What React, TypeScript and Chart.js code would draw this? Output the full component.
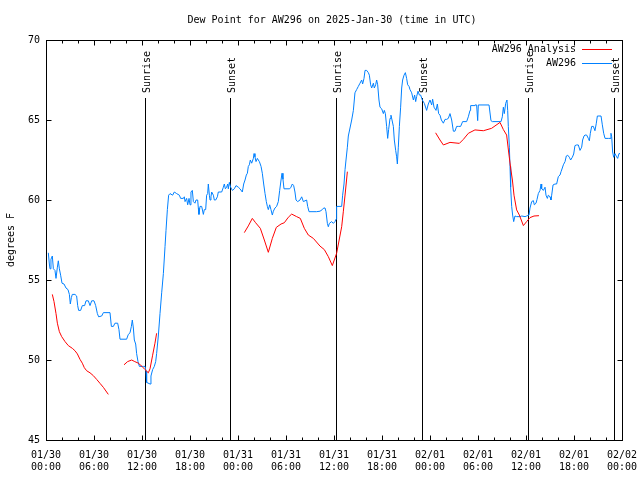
import React, { useEffect, useRef } from "react";
import { Chart, registerables } from "chart.js";

Chart.register(...registerables);

const TITLE = "Dew Point for AW296 on 2025-Jan-30 (time in UTC)";
const Y_LABEL = "degrees F";
const FAMILY = '"DejaVu Sans Mono", monospace';
const FONT = `10px ${FAMILY}`;

// hours since 2025-01-30 00:00 UTC
const obsHours = [
  0.29, 0.42, 0.5, 0.62, 0.79, 0.92, 1.12, 1.25, 1.42, 1.54, 1.67, 1.83, 2.0, 2.25, 2.5, 2.75, 2.92, 3.04, 3.17, 3.29,
  3.62, 3.83, 3.96, 4.08, 4.33, 4.54, 4.83, 5.0, 5.29, 5.5, 5.71, 6.0, 6.21, 6.42, 6.58, 6.96, 7.17, 8.0, 8.17, 8.42,
  8.62, 8.96, 9.12, 9.25, 10.08, 10.29, 10.5, 10.67, 10.79, 10.92, 11.04, 11.21, 11.33, 11.5, 11.67, 12.17, 12.38, 12.5, 12.58, 13.0,
  13.12, 13.33, 13.54, 13.71, 13.83, 14.04, 14.25, 14.46, 14.67, 14.88, 15.0, 15.17, 15.33, 15.5, 15.83, 16.04, 16.33, 16.67, 16.83, 17.17,
  17.29, 17.38, 17.58, 17.71, 17.88, 18.0, 18.12, 18.29, 18.42, 18.62, 18.75, 18.96, 19.04, 19.12, 19.25, 19.46, 19.67, 19.79, 19.96, 20.08,
  20.21, 20.29, 20.42, 20.5, 20.62, 20.71, 20.92, 21.04, 21.21, 21.42, 21.54, 21.96, 22.17, 22.29, 22.42, 22.58, 22.71, 22.79, 22.92, 23.08,
  23.29, 23.54, 23.75, 24.04, 24.25, 24.54, 24.71, 24.88, 25.04, 25.17, 25.29, 25.42, 25.54, 25.71, 25.92, 26.0, 26.12, 26.25, 26.42, 26.54,
  26.67, 26.88, 27.04, 27.21, 27.38, 27.54, 27.67, 27.79, 27.96, 28.12, 28.29, 28.42, 28.62, 28.83, 29.04, 29.21, 29.38, 29.5, 29.62, 29.75,
  30.46, 30.62, 30.79, 30.96, 31.12, 31.25, 31.46, 31.75, 31.96, 32.17, 32.58, 32.71, 32.88, 33.83, 34.25, 34.54, 34.71, 34.88, 35.0, 35.17,
  35.29, 35.42, 35.71, 35.92, 36.12, 36.25, 36.33, 36.96, 37.08, 37.25, 37.38, 37.5, 37.67, 37.79, 38.0, 38.21, 38.42, 38.62, 38.83, 39.04,
  39.25, 39.46, 39.58, 39.75, 39.88, 40.08, 40.29, 40.42, 40.58, 40.71, 40.92, 41.04, 41.21, 41.33, 41.46, 41.62, 41.75, 41.96, 42.17, 42.29,
  42.42, 42.58, 42.71, 42.83, 43.0, 43.12, 43.25, 43.42, 43.54, 43.71, 43.83, 43.92, 44.04, 44.17, 44.33, 44.46, 44.58, 44.75, 44.92, 45.08,
  45.21, 45.38, 45.5, 45.71, 45.92, 46.08, 46.21, 46.33, 46.5, 46.67, 46.83, 47.04, 47.29, 47.58, 47.79, 48.0, 48.21, 48.33, 48.5, 48.75,
  48.92, 49.08, 49.25, 49.42, 49.67, 49.88, 50.08, 50.29, 50.5, 50.71, 50.92, 51.12, 51.33, 51.54, 51.83, 52.08, 52.58, 52.79, 53.0, 53.08,
  53.5, 53.62, 53.83, 53.96, 54.04, 55.38, 55.62, 55.79, 56.88, 57.04, 57.17, 57.29, 57.46, 57.62, 57.71, 57.79, 57.92, 58.0, 58.08, 58.21,
  58.33, 58.46, 58.62, 58.83, 59.25, 59.46, 59.88, 60.08, 60.38, 60.5, 60.71, 60.92, 61.04, 61.25, 61.38, 61.54, 61.75, 61.88, 61.96, 62.17,
  62.38, 62.5, 62.67, 62.79, 63.0, 63.12, 63.21, 63.38, 63.62, 63.83, 64.04, 64.25, 64.38, 64.54, 64.67, 64.88, 65.04, 65.21, 65.42, 65.58,
  65.79, 65.96, 66.12, 66.33, 66.54, 66.75, 66.96, 67.08, 67.25, 67.38, 67.58, 67.79, 67.92, 68.04, 68.21, 68.42, 68.62, 68.79, 68.92, 69.12,
  69.38, 69.54, 69.71, 69.88, 70.29, 70.5, 70.62, 70.71, 70.83, 70.96, 71.12, 71.33, 71.46, 71.62, 71.75,
];

const obsDewPoint = [
  56.7, 56.0, 55.7, 56.3, 56.5, 55.7, 55.6, 55.1, 55.8, 56.2, 55.7, 55.3, 54.8, 54.75, 54.5, 54.4, 54.1, 53.5, 53.9, 54.1,
  54.1, 54.0, 53.4, 53.1, 53.1, 53.4, 53.4, 53.7, 53.7, 53.4, 53.7, 53.7, 53.4, 52.9, 52.7, 52.75, 52.96, 52.96, 52.1, 52.1,
  52.3, 52.3, 51.9, 51.3, 51.3, 51.6, 51.7, 52.1, 52.5, 52.0, 51.25, 51.0, 50.4, 49.9, 49.6, 49.6, 49.6, 49.3, 48.6, 48.5,
  49.0, 49.4, 49.6, 49.9, 50.4, 51.5, 52.9, 54.2, 55.4, 57.1, 58.1, 59.4, 60.3, 60.4, 60.3, 60.5, 60.4, 60.3, 60.1, 60.1,
  60.2, 59.9, 60.1, 59.7, 60.1, 59.7, 60.5, 60.6, 59.9, 59.8, 60.0, 60.0, 59.5, 59.1, 59.6, 59.6, 59.1, 59.4, 59.4, 60.3,
  60.4, 61.0, 60.3, 60.0, 60.2, 60.5, 60.3, 60.0, 60.0, 60.2, 60.5, 60.5, 60.8, 61.0, 60.7, 60.8, 61.0, 60.7, 61.1, 60.8,
  60.6, 60.7, 60.9, 60.8, 60.7, 60.5, 61.0, 61.25, 61.56, 61.67, 62.1, 62.2, 62.5, 62.3, 62.6, 62.9, 62.7, 62.4, 62.6, 62.5,
  62.4, 62.1, 61.67, 61.0, 60.4, 59.9, 59.6, 59.4, 59.7, 59.4, 59.06, 59.3, 59.5, 59.6, 59.9, 60.6, 61.25, 61.67, 61.3, 60.7,
  60.7, 60.8, 61.0, 60.9, 60.5, 60.0, 59.9, 60.0, 60.2, 59.9, 60.0, 59.6, 59.27, 59.27, 59.3, 59.4, 59.5, 59.5, 59.27, 58.54,
  58.33, 58.54, 58.65, 58.54, 58.65, 58.8, 59.6, 59.6, 60.3, 61.0, 61.9, 62.5, 63.3, 64.0, 64.5, 65.0, 65.6, 66.7, 66.9, 67.1,
  67.3, 67.5, 67.25, 67.6, 68.1, 68.1, 67.96, 67.8, 67.2, 67.0, 67.3, 67.0, 67.2, 67.5, 67.2, 66.25, 65.8, 65.7, 65.4, 65.6,
  65.4, 64.6, 63.85, 64.4, 65.1, 65.3, 65.0, 64.6, 63.75, 63.1, 62.7, 62.25, 63.3, 64.6, 65.8, 67.0, 67.5, 67.8, 67.96, 67.6,
  67.2, 67.1, 66.9, 66.7, 66.25, 66.56, 66.15, 66.46, 66.8, 66.56, 66.56, 66.25, 66.04, 65.6, 66.0, 66.25, 65.94, 66.3, 65.8, 65.6,
  66.0, 65.4, 65.3, 65.0, 64.8, 65.04, 65.04, 65.1, 65.4, 65.0, 64.3, 64.3, 64.6, 64.6, 64.6, 64.9, 64.9, 65.2, 65.6, 65.9,
  65.9, 65.94, 65.94, 64.96, 65.94, 65.94, 64.96, 64.9, 64.9, 65.2, 65.8, 65.4, 66.04, 66.25, 65.6, 64.6, 63.3, 62.1, 60.8, 59.6,
  59.06, 58.65, 59.0, 58.96, 58.96, 59.0, 58.96, 59.0, 59.06, 59.5, 59.9, 59.96, 59.7, 59.8, 60.04, 60.4, 60.6, 61.0, 60.7, 60.6,
  60.8, 60.3, 60.1, 60.3, 60.2, 60.0, 60.3, 60.94, 61.0, 61.0, 61.46, 61.56, 61.77, 62.0, 62.2, 62.4, 62.75, 62.8, 62.67, 62.5,
  62.67, 62.875, 63.4, 63.44, 63.44, 63.1, 63.3, 63.75, 64.0, 64.06, 64.06, 63.85, 63.7, 64.17, 64.6, 64.6, 64.33, 64.8, 65.25, 65.25,
  65.25, 64.7, 64.17, 63.85, 63.85, 63.85, 64.17, 63.96, 63.0, 62.67, 62.9, 62.7, 62.6, 62.9, 62.9,
];

// analysis series; null marks a gap in the record
const anaHours = [
  0.79, 1.0, 1.25, 1.42, 1.67, 1.96, 2.38, 2.79, 3.29, 3.62, 3.92, 4.25, 4.54, 4.79, 5.08, 5.5, 5.92, 6.33, 6.75, 7.17, 7.79,
  8.8,
  9.75, 10.2, 10.71, 11.1, 11.54, 12.0, 12.38, 12.79, 13.0, 13.33, 13.62, 13.83,
  19.0,
  24.79, 25.29, 25.79, 26.2, 26.79, 27.29, 27.79, 28.29, 28.79, 29.38, 29.79, 30.29, 30.71, 31.33, 31.79, 32.29, 32.79, 33.42,
  34.25, 34.79, 35.29, 35.79, 36.33, 36.96, 37.17, 37.42, 37.67,
  43.0,
  48.7, 49.25, 49.67, 50.5, 51.67, 52.17, 52.8, 53.62, 54.67, 55.7, 56.75, 57.17, 57.58, 57.83, 58.08, 58.3, 58.5, 58.83,
  59.17, 59.67, 60.08, 60.5, 61.0, 61.62,
];

const anaDewPoint = [
  54.1, 53.65, 52.9, 52.3, 51.77, 51.46, 51.15, 50.9, 50.73, 50.58, 50.38, 50.04, 49.8, 49.52, 49.33, 49.2, 49.02, 48.79, 48.54, 48.29, 47.85,
  null,
  49.7, 49.9, 50.0, 49.9, 49.8, 49.6, 49.4, 49.2, 49.45, 50.3, 51.05, 51.67,
  null,
  57.96, 58.38, 58.85, 58.58, 58.23, 57.5, 56.73, 57.6, 58.29, 58.5, 58.58, 58.92, 59.12, 58.96, 58.85, 58.23, 57.81, 57.6,
  57.12, 56.9, 56.46, 55.9, 56.67, 58.33, 59.3, 60.5, 61.77,
  null,
  64.2, 63.75, 63.44, 63.6, 63.54, 63.79, 64.17, 64.38, 64.33, 64.48, 64.85, 64.4, 64.06, 63.0, 62.0, 61.25, 60.3, 59.38,
  59.06, 58.4, 58.65, 58.9, 59.0, 59.02,
];

const sunriseHours = [12.38, 36.27, 60.28];
const sunsetHours = [23.0, 47.03, 71.04];

const xTickHours = [0, 6, 12, 18, 24, 30, 36, 42, 48, 54, 60, 66, 72];
const xTickDates = ["01/30", "01/30", "01/30", "01/30", "01/31", "01/31", "01/31", "01/31", "02/01", "02/01", "02/01", "02/01", "02/02"];
const xTickTimes = ["00:00", "06:00", "12:00", "18:00", "00:00", "06:00", "12:00", "18:00", "00:00", "06:00", "12:00", "18:00", "00:00"];
const xMinorStep = 2;
const yTickValues = [45, 50, 55, 60, 65, 70];

const RED = "#ff0000";
const BLUE = "#0080ff";
const legendLabels = ["AW296 Analysis", "AW296"];
const legendColors = [RED, BLUE];

const decorPlugin = {
  id: "decor",
  beforeDatasetsDraw(chart: any) {
    const { ctx, chartArea: a } = chart;
    const xs = chart.scales.x;
    ctx.save();
    ctx.strokeStyle = "#000";
    ctx.lineWidth = 1;
    [...sunriseHours, ...sunsetHours].forEach((h) => {
      const px = Math.round(xs.getPixelForValue(h)) + 0.5;
      ctx.beginPath();
      ctx.moveTo(px, a.top + 58);
      ctx.lineTo(px, a.bottom);
      ctx.stroke();
    });
    ctx.restore();
  },
  afterDraw(chart: any) {
    const { ctx, chartArea: a } = chart;
    const xs = chart.scales.x;
    const ys = chart.scales.y;
    const L = Math.round(a.left) + 0.5;
    const R = Math.round(a.right) + 0.5;
    const T = Math.round(a.top) + 0.5;
    const B = Math.round(a.bottom) + 0.5;
    ctx.save();
    ctx.strokeStyle = "#000";
    ctx.lineWidth = 1;
    ctx.strokeRect(L, T, R - L, B - T);

    // x ticks (major + minor), mirrored on top
    for (let h = xs.min; h <= xs.max + 1e-9; h += xMinorStep) {
      const major = xTickHours.includes(h);
      const len = major ? 5 : 3;
      const px = Math.round(xs.getPixelForValue(h)) + 0.5;
      ctx.beginPath();
      ctx.moveTo(px, B);
      ctx.lineTo(px, B - len);
      ctx.moveTo(px, T);
      ctx.lineTo(px, T + len);
      ctx.stroke();
    }
    // y ticks, mirrored on the right
    yTickValues.forEach((v) => {
      const py = Math.round(ys.getPixelForValue(v)) + 0.5;
      ctx.beginPath();
      ctx.moveTo(L, py);
      ctx.lineTo(L + 5, py);
      ctx.moveTo(R, py);
      ctx.lineTo(R - 5, py);
      ctx.stroke();
    });

    ctx.fillStyle = "#000";
    ctx.font = FONT;

    // sunrise / sunset labels
    const labels: [number, string][] = [
      ...sunriseHours.map((h) => [h, "Sunrise"] as [number, string]),
      ...sunsetHours.map((h) => [h, "Sunset"] as [number, string]),
    ];
    labels.forEach(([h, text]) => {
      const px = Math.round(xs.getPixelForValue(h));
      ctx.save();
      ctx.translate(px + 5, a.top + 53);
      ctx.rotate(-Math.PI / 2);
      ctx.textAlign = "left";
      ctx.textBaseline = "alphabetic";
      ctx.fillText(text, 0, 0);
      ctx.restore();
    });

    // title
    ctx.textAlign = "center";
    ctx.textBaseline = "middle";
    ctx.fillText(TITLE, (a.left + a.right) / 2 - 2, 20);

    // y axis label
    ctx.save();
    ctx.translate(11, (a.top + a.bottom) / 2);
    ctx.rotate(-Math.PI / 2);
    ctx.fillText(Y_LABEL, 0, 0);
    ctx.restore();

    // legend
    legendLabels.forEach((label, i) => {
      const y = a.top + 9 + i * 14;
      ctx.textAlign = "right";
      ctx.textBaseline = "middle";
      ctx.fillStyle = "#000";
      ctx.fillText(label, a.right - 46, y);
      ctx.strokeStyle = legendColors[i];
      ctx.beginPath();
      ctx.moveTo(a.right - 40, Math.round(y) + 0.5);
      ctx.lineTo(a.right - 10, Math.round(y) + 0.5);
      ctx.stroke();
    });
    ctx.restore();
  },
};

export default function App() {
  const ref = useRef<HTMLCanvasElement>(null);

  useEffect(() => {
    const canvas = ref.current;
    if (!canvas) return;
    const anaData = anaHours.map((h, i) => ({ x: h, y: anaDewPoint[i] }));
    const obsData = obsHours.map((h, i) => ({ x: h, y: obsDewPoint[i] }));
    const chart = new Chart(canvas, {
      type: "line",
      data: {
        datasets: [
          {
            label: legendLabels[0],
            data: anaData as any,
            borderColor: RED,
            backgroundColor: RED,
            borderWidth: 1,
            pointRadius: 0,
            spanGaps: false,
            tension: 0,
          },
          {
            label: legendLabels[1],
            data: obsData as any,
            borderColor: BLUE,
            backgroundColor: BLUE,
            borderWidth: 1,
            pointRadius: 0,
            tension: 0,
          },
        ],
      },
      options: {
        responsive: false,
        devicePixelRatio: 1,
        animation: false,
        events: [],
        layout: { padding: { top: 40, right: 18, left: 0, bottom: 0 } },
        plugins: {
          legend: { display: false },
          title: { display: false },
          tooltip: { enabled: false },
        },
        scales: {
          x: {
            type: "linear",
            min: 0,
            max: 72,
            grid: { display: false, drawTicks: false },
            border: { display: false },
            afterBuildTicks: (s: any) => {
              s.ticks = xTickHours.map((v) => ({ value: v }));
            },
            afterFit: (s: any) => {
              s.height = 40;
              s.paddingLeft = 0;
              s.paddingRight = 0;
            },
            ticks: {
              autoSkip: false,
              maxRotation: 0,
              minRotation: 0,
              padding: 9,
              color: "#000",
              font: { family: FAMILY, size: 10, lineHeight: 1.2 },
              callback: (_v: any, i: number) => [xTickDates[i], xTickTimes[i]],
            },
          },
          y: {
            type: "linear",
            min: 45,
            max: 70,
            grid: { display: false, drawTicks: false },
            border: { display: false },
            afterBuildTicks: (s: any) => {
              s.ticks = yTickValues.map((v) => ({ value: v }));
            },
            afterFit: (s: any) => {
              s.width = 46;
              s.paddingTop = 0;
              s.paddingBottom = 0;
            },
            ticks: {
              padding: 6,
              color: "#000",
              font: { family: FAMILY, size: 10 },
              callback: (v: any) => String(v),
            },
          },
        },
      },
      plugins: [decorPlugin],
    });
    return () => chart.destroy();
  }, []);

  return (
    <div style={{ position: "absolute", left: 0, top: 0, width: 640, height: 480, background: "#fff" }}>
      <canvas ref={ref} width={640} height={480} style={{ display: "block", width: 640, height: 480 }} />
    </div>
  );
}
